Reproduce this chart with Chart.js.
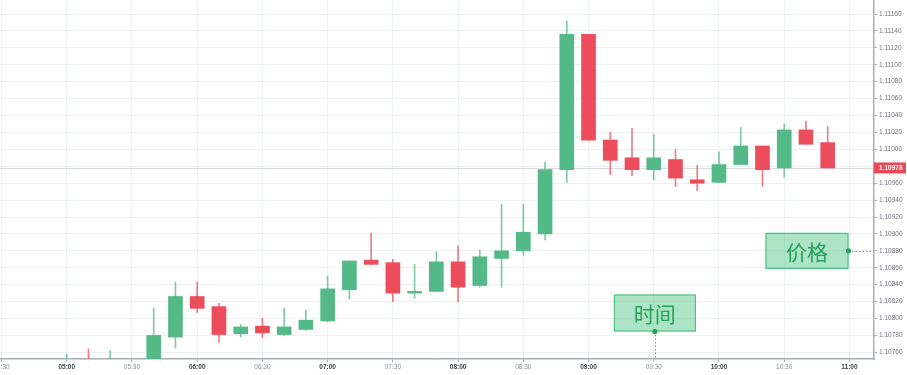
<!DOCTYPE html>
<html>
<head>
<meta charset="utf-8">
<script src="https://cdn.jsdelivr.net/npm/chart.js@4.4.1/dist/chart.umd.min.js"></script>
<style>
  html, body { margin: 0; padding: 0; background: #fff; }
  #wrap { width: 907px; height: 375px; position: relative; }
</style>
</head>
<body>
<div id="wrap"><canvas id="chart"></canvas></div>
<script>
// 10-minute candles
const times = ["05:00","05:10","05:20","05:30","05:40","05:50","06:00","06:10","06:20","06:30","06:40","06:50",
               "07:00","07:10","07:20","07:30","07:40","07:50","08:00","08:10","08:20","08:30","08:40","08:50",
               "09:00","09:10","09:20","09:30","09:40","09:50","10:00","10:10","10:20","10:30","10:40","10:50"];
const open  = [1.10748,1.10751,1.10749,1.10747,1.10750,1.10778,1.10826,1.10814,1.10782,1.10791,1.10781,1.10787,
               1.10797,1.10834,1.10869,1.10866,1.10830,1.10832,1.10867,1.10839,1.10871,1.10880,1.10900,1.10976,
               1.11136,1.11011,1.10990,1.10976,1.10988,1.10964,1.10961,1.10982,1.11004,1.10978,1.11023,1.11008];
const high  = [1.10758,1.10764,1.10762,1.10751,1.10812,1.10843,1.10843,1.10818,1.10793,1.10800,1.10812,1.10810,
               1.10850,1.10868,1.10901,1.10870,1.10864,1.10879,1.10886,1.10881,1.10935,1.10935,1.10985,1.11152,
               1.11136,1.11020,1.11025,1.11018,1.11000,1.10981,1.10997,1.11026,1.11004,1.11030,1.11033,1.11027];
const low   = [1.10746,1.10747,1.10747,1.10745,1.10748,1.10765,1.10807,1.10772,1.10778,1.10777,1.10780,1.10786,
               1.10796,1.10823,1.10864,1.10820,1.10824,1.10832,1.10820,1.10837,1.10837,1.10875,1.10893,1.10961,
               1.11011,1.10970,1.10969,1.10964,1.10956,1.10951,1.10961,1.10982,1.10956,1.10967,1.11006,1.10978];
const close = [1.10751,1.10749,1.10751,1.10750,1.10780,1.10826,1.10812,1.10781,1.10790,1.10783,1.10790,1.10798,
               1.10835,1.10868,1.10864,1.10830,1.10832,1.10867,1.10837,1.10873,1.10880,1.10902,1.10976,1.11136,
               1.11011,1.10987,1.10976,1.10990,1.10966,1.10960,1.10982,1.11004,1.10976,1.11023,1.11006,1.10978];

const xTickLabels = ["04:30","05:00","05:30","06:00","06:30","07:00","07:30","08:00","08:30","09:00","09:30","10:00","10:30","11:00"];
const yTickLabels = ["1.10760","1.10780","1.10800","1.10820","1.10840","1.10860","1.10880","1.10900","1.10920","1.10940",
                     "1.10960","1.10980","1.11000","1.11020","1.11040","1.11060","1.11080","1.11100","1.11120","1.11140","1.11160"];

const lastPrice = close[close.length - 1];
const timeMark = "09:30";        // 时间 marker (sits just right of the 09:30 tick)
const priceMark = 1.10880;       // 价格 marker

const UP = "#53b987", DOWN = "#eb4d5c";
const FONT = "'Liberation Sans', Arial, sans-serif";

const toMin = (s) => { const [h, m] = s.split(":").map(Number); return h * 60 + m; };
const xs = times.map(toMin);
const cols = open.map((o, i) => (close[i] >= o ? UP : DOWN));
const wickCols = open.map((o, i) => (close[i] >= o ? "rgba(83,185,135,0.75)" : "rgba(235,77,92,0.75)"));

function drawTag(ctx, x0, y0, w, h, text) {
  ctx.fillStyle = "rgba(76,196,128,0.45)";
  ctx.fillRect(x0, y0, w, h);
  ctx.strokeStyle = "#3dbd74";
  ctx.lineWidth = 1;
  ctx.setLineDash([]);
  ctx.strokeRect(x0 + 0.5, y0 + 0.5, w - 1, h - 1);
  ctx.fillStyle = "#22a35a";
  ctx.font = "21px 'Noto Sans CJK SC'";
  ctx.textAlign = "center";
  ctx.textBaseline = "middle";
  ctx.fillText(text, x0 + w / 2, y0 + h / 2 + 1);
}

function dot(ctx, x, y) {
  ctx.fillStyle = "#22a35a";
  ctx.beginPath(); ctx.arc(x, y, 2.6, 0, Math.PI * 2); ctx.fill();
}

const overlay = {
  id: "overlay",
  beforeDatasetsDraw(chart) {
    const { ctx, chartArea: a, scales: { y } } = chart;
    const py = Math.round(y.getPixelForValue(lastPrice)) + 0.5;
    ctx.save();
    ctx.strokeStyle = "rgba(140,140,140,0.3)";
    ctx.lineWidth = 1;
    ctx.beginPath(); ctx.moveTo(a.left, py); ctx.lineTo(a.right, py); ctx.stroke();
    ctx.restore();
  },
  afterDraw(chart) {
    const { ctx, chartArea: a, scales: { x, y } } = chart;
    ctx.save();
    // last price tag on the axis
    const py = y.getPixelForValue(lastPrice);
    ctx.fillStyle = "#ea4a57";
    ctx.fillRect(a.right, py - 5.5, 32, 11);
    ctx.fillStyle = "#fff";
    ctx.font = "bold 6.5px " + FONT;
    ctx.textAlign = "left"; ctx.textBaseline = "middle";
    ctx.fillText(lastPrice.toFixed(5), a.right + 5, py + 0.5);

    ctx.strokeStyle = "#2fb36c";
    ctx.lineWidth = 1;

    // 时间: dot above the x axis, dotted stem down to it
    const tx = x.getPixelForValue(toMin(timeMark) + 0.5);
    const ty = a.bottom - 27.5;
    ctx.setLineDash([1.5, 2]);
    ctx.beginPath(); ctx.moveTo(Math.round(tx) + 0.5, ty); ctx.lineTo(Math.round(tx) + 0.5, a.bottom); ctx.stroke();
    drawTag(ctx, tx - 41, ty - 37, 82, 37, "时间");
    dot(ctx, tx, ty);

    // 价格: dot left of the y axis, dotted stem across to it
    const px = a.right - 25.5;
    const pp = y.getPixelForValue(priceMark);
    ctx.strokeStyle = "#2fb36c";
    ctx.setLineDash([1.5, 2]);
    ctx.beginPath(); ctx.moveTo(px, Math.round(pp) + 0.5); ctx.lineTo(a.right, Math.round(pp) + 0.5); ctx.stroke();
    drawTag(ctx, px - 83, pp - 18, 83, 36, "价格");
    dot(ctx, px, pp);
    ctx.restore();
  },
};

new Chart(document.getElementById("chart"), {
  type: "bar",
  data: {
    datasets: [
      { label: "body", data: xs.map((t, i) => ({ x: t, y: [open[i], close[i]] })),
        backgroundColor: cols, barThickness: 14, grouped: false, borderWidth: 0 },
      { label: "wick", data: xs.map((t, i) => ({ x: t, y: [low[i], high[i]] })),
        backgroundColor: wickCols, barThickness: 1, grouped: false, borderWidth: 0 },
    ],
  },
  options: {
    responsive: true,
    maintainAspectRatio: false,
    animation: false,
    layout: { padding: 0 },
    plugins: { legend: { display: false }, tooltip: { enabled: false } },
    scales: {
      x: {
        type: "linear", offset: false,
        min: 269.3, max: 671.3,
        grid: { offset: false, color: "#eef1f4", tickLength: 3, tickColor: "#a9acb5" },
        border: { display: true, color: "#a9acb5", width: 1.5 },
        afterBuildTicks: (s) => { s.ticks = xTickLabels.map((l) => ({ value: toMin(l) })); },
        afterFit: (s) => { s.height = 16; s.paddingLeft = 0; s.paddingRight = 0; },
        ticks: {
          autoSkip: false, maxRotation: 0, padding: 1,
          callback: (v) => xTickLabels.find((l) => toMin(l) === v) ?? "",
          font: (c) => ({ family: FONT, size: 6.5, weight: c.tick && c.tick.value % 60 === 0 ? "bold" : "normal" }),
          color: (c) => (c.tick && c.tick.value % 60 === 0 ? "#3b3e46" : "#8d9099"),
        },
      },
      y: {
        type: "linear", position: "right",
        min: 1.107521, max: 1.111766,
        grid: { color: "#eef1f4", tickLength: 3, tickColor: "#a9acb5" },
        border: { display: true, color: "#a9acb5", width: 1.5 },
        afterBuildTicks: (s) => { s.ticks = yTickLabels.map((l) => ({ value: parseFloat(l) })); },
        afterFit: (s) => { s.width = 33; s.paddingTop = 0; s.paddingBottom = 0; },
        ticks: {
          padding: 2,
          callback: (v) => v.toFixed(5),
          font: { family: FONT, size: 6.5 },
          color: "#6f727c",
        },
      },
    },
  },
  plugins: [overlay],
});
</script>
</body>
</html>
